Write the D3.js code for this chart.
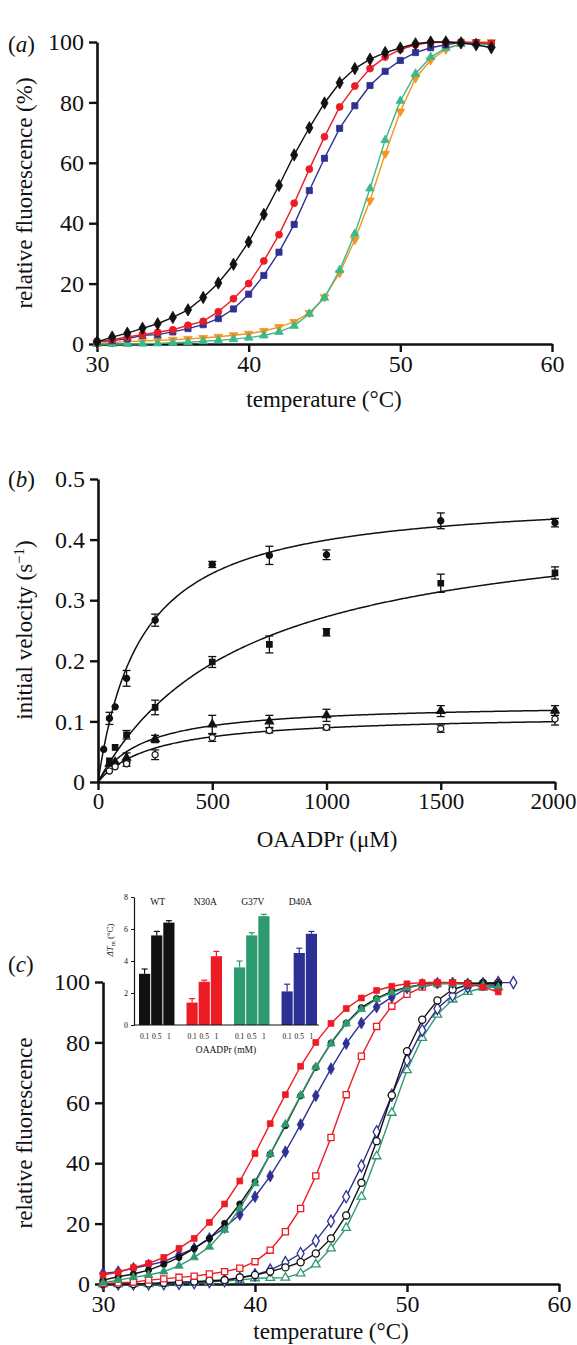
<!DOCTYPE html>
<html>
<head>
<meta charset="utf-8">
<script src="https://cdn.jsdelivr.net/npm/d3@7"></script>
<style>
body { margin: 0; background: #fff; }
svg { display: block; }
text { font-family: "Liberation Serif", "Times New Roman", Tinos, serif; fill: #111; }
</style>
</head>
<body>
<div id="graph"></div>
<script>
// ---------- panel (a) data ----------
var tempsA = [30,31,32,33,34,35,36,37,38,39,40,41,42,43,44,45,46,47,48,49,50,51,52,53,54,55,56];
var aBlack  = [0.7,2.3,3.6,5.2,6.7,8.8,11.3,15.4,20.2,26.4,33.8,42.9,52.5,62.6,71.6,79.8,86.5,91.2,94.3,96.5,98,99.4,100,100,99.7,99.1,98.1];
var aRed    = [0.7,1.4,2.3,3.1,3.9,4.7,6.2,7.5,10.7,15,20,27.5,36.2,46.6,57.9,68.6,78.5,85.4,91.2,95,97.5,99.1,99.8,99.9,99.9,99.8,99.5];
var aBlue   = [0.7,1.1,1.7,2.9,3.1,4,5.1,6.4,8.4,11.6,16.5,22.7,30.4,39.6,50.8,61.5,71.4,78.9,85.6,90.3,93.9,96.5,98.1,99.1,99.9,99.8,99.5];
var aGreen  = [0,0,0,0.1,0.2,0.4,0.6,0.9,1.2,1.6,2.1,2.8,4,6,10,15.3,24.5,36.5,51.5,67.5,80.5,89.5,95,98,99.3,99.5,99];
var aOrange = [0.2,0.5,0.8,1,1.2,1.4,1.7,2,2.4,2.9,3.4,4.3,5.6,7.3,10.3,15.5,23.5,34.5,47.5,63,77,88,94,97.5,99.5,100,100];

// ---------- panel (b) data ----------
var bConc1 = [25,50,75,125,250,500,750,1000,1500,2000];
var bV1    = [0.054,0.105,0.124,0.171,0.267,0.359,0.374,0.375,0.431,0.428];
var bE1    = [0,0.01,0,0.013,0.01,0.005,0.015,0.008,0.013,0.007];
var bConc  = [50,75,125,250,500,750,1000,1500,2000];
var bV2    = [0.035,0.057,0.078,0.123,0.198,0.227,0.247,0.328,0.345];
var bE2    = [0,0,0.007,0.012,0.009,0.014,0.006,0.015,0.01];
var bV3    = [0.03,0.033,0.04,0.071,0.095,0.1,0.11,0.117,0.118];
var bE3    = [0,0,0.008,0.006,0.015,0.01,0.01,0.009,0.008];
var bV4    = [0.018,0.025,0.03,0.045,0.073,0.085,0.09,0.088,0.104];
var bE4    = [0,0,0.004,0.008,0.006,0.004,0.004,0.006,0.01];
var bVmax  = [0.475,0.45,0.13,0.112];
var bKm    = [190,650,200,250];

// ---------- panel (c) data ----------
var tempsC = [30,31,32,33,34,35,36,37,38,39,40,41,42,43,44,45,46,47,48,49,50,51,52,53,54,55,56];
var tempsC2 = [30,31,32,33,34,35,36,37,38,39,40,41,42,43,44,45,46,47,48,49,50,51,52,53,54,55,56,57];
var cRedF   = [3,3.9,5.4,6.8,8.8,11.8,15.1,20.4,26.5,34.1,43.2,53.1,62.7,72.1,80,86.3,91.2,94.7,97.2,98.6,99.4,99.8,99.9,99.8,99.4,98.3,96.7];
var cBlackF = [1.3,2.4,3.3,4.6,6.5,8.8,11.8,15.1,20.1,26.5,33.8,43,52.4,62.3,71.7,79.8,86.4,91.5,94.6,96.9,98.3,99.2,99.6,99.7,99.7,99.6,99.4];
var cGreenF = [0.4,1.3,2.2,3,4.1,6,8.8,12.3,17.9,25,33.3,43,52.9,62.5,71.9,79.6,86.2,91,94.3,96.5,98.1,99.1,99.4,99.4,99.2,98.9,98.3];
var cBlueF  = [3.5,4.1,5.2,6.3,7.4,9.6,11.8,15.1,18.7,23,28.9,35.7,43.8,52.8,62.3,71.3,79.6,86.4,91.7,95,98,99.2,99.6,99.7,99.4,99.1,98.9];
var cRedO   = [0.2,0.4,0.6,1.3,1.7,2.2,2.6,3.3,4.1,5.2,7.4,11.2,17.3,25,35.8,48.5,62.7,75.4,85.3,92,95.9,98.3,99.4,99.7,99.4,98.9,98.3];
var cBlackO = [0,0,0,0.2,0.4,0.7,0.8,1.1,1.3,2.2,3,4.1,5.5,7.2,10.1,15.1,22.7,33.5,47.3,62.5,77.1,87.5,93.9,97.5,99.1,99.7,99.7];
var cBlueO  = [0,0,0,0,0.1,0.2,0.4,0.8,1.1,1.9,3,4.6,7.1,10.1,14.3,20.8,28.9,39.1,50.4,62.5,74.1,84,91.2,95.6,98.3,99.4,99.8,99.8];
var cGreenO = [0,0,0,0,0.1,0.3,0.5,0.7,1,1.3,1.9,2,2.1,3.5,6.5,11.8,18.6,28.9,42.3,56.7,70.8,81.5,89.2,94.2,96.7,98.1,98.3];

// ---------- inset data ----------
var insetGroups = ["WT","N30A","G37V","D40A"];
var insetConc = ["0.1","0.5","1"];
var dTm    = [[3.2,5.6,6.4],[1.4,2.7,4.3],[3.6,5.6,6.8],[2.1,4.5,5.7]];
var dTmErr = [[0.3,0.25,0.12],[0.25,0.1,0.3],[0.4,0.17,0.12],[0.45,0.3,0.15]];

var black = "#111", red = "#ed1c24", blue = "#2e3192", orange = "#f7941d";
var greenA = "#3cb98b", greenC = "#2f9a6f";
var serif = '"Liberation Serif","Times New Roman",Tinos,serif';

var svg = d3.select("#graph").append("svg")
  .attr("width", 577).attr("height", 1345)
  .attr("font-family", serif);

// helpers
function styleAxis(g) {
  g.attr("font-family", serif);
  g.selectAll(".domain").attr("stroke", "#111").attr("stroke-width", 2.6);
  g.selectAll(".tick line").attr("stroke", "#111").attr("stroke-width", 2.4);
  g.selectAll(".tick text").attr("font-size", 24).attr("fill", "#111");
}

function panelLabel(x, y, letter) {
  var t = svg.append("text").attr("x", x).attr("y", y).attr("font-size", 23);
  t.append("tspan").text("(");
  t.append("tspan").attr("font-style", "italic").text(letter);
  t.append("tspan").text(")");
}

function symbolPath(shape, size) {
  var types = { diamond: d3.symbolDiamond, circle: d3.symbolCircle, square: d3.symbolSquare,
                up: d3.symbolTriangle, down: d3.symbolTriangle };
  return d3.symbol().type(types[shape]).size(size)();
}

function series(g, x, y, xs, ys, color, shape, open, size, lw) {
  var pts = xs.map(function(d, i) { return [d, ys[i]]; });
  g.append("path")
    .datum(pts)
    .attr("fill", "none")
    .attr("stroke", color)
    .attr("stroke-width", lw || 1.4)
    .attr("d", d3.line().x(function(d){ return x(d[0]); }).y(function(d){ return y(d[1]); }));
  g.selectAll(null)
    .data(pts)
    .enter()
    .append("path")
      .attr("d", symbolPath(shape, size))
      .attr("transform", function(d) {
        return "translate(" + x(d[0]) + "," + y(d[1]) + ")" + (shape == "down" ? " rotate(180)" : "");
      })
      .attr("fill", open ? "#fff" : color)
      .attr("stroke", color)
      .attr("stroke-width", open ? 1.3 : 0.8);
}

// ================= panel (a) =================
var xa = d3.scaleLinear().domain([30, 60]).range([97, 552]);
var ya = d3.scaleLinear().domain([0, 100]).range([344, 42]);

svg.append("g").attr("transform", "translate(0,344)")
  .call(d3.axisBottom(xa).tickValues([30,40,50,60]).tickSize(8).tickSizeOuter(0).tickPadding(3))
  .call(styleAxis);
svg.append("g").attr("transform", "translate(97,0)")
  .call(d3.axisLeft(ya).tickValues([0,20,40,60,80,100]).tickSize(8).tickSizeOuter(0).tickPadding(5))
  .call(styleAxis);

var ga = svg.append("g");
series(ga, xa, ya, tempsA, aOrange, orange, "down", false, 32);
series(ga, xa, ya, tempsA, aGreen, greenA, "up", false, 32);
series(ga, xa, ya, tempsA, aBlue, blue, "square", false, 38);
series(ga, xa, ya, tempsA, aRed, red, "circle", false, 38);
series(ga, xa, ya, tempsA, aBlack, black, "diamond", false, 44);

panelLabel(8, 52, "a");
svg.append("text").attr("transform", "translate(32,193) rotate(-90)")
  .attr("text-anchor", "middle").attr("font-size", 23).text("relative fluorescence (%)");
svg.append("text").attr("x", 324).attr("y", 407)
  .attr("text-anchor", "middle").attr("font-size", 23).text("temperature (°C)");

// ================= panel (b) =================
var xb = d3.scaleLinear().domain([0, 2000]).range([98, 555]);
var yb = d3.scaleLinear().domain([0, 0.5]).range([782, 479]);

var xbAxis = svg.append("g").attr("transform", "translate(0,782)")
  .call(d3.axisBottom(xb).tickValues([0,500,1000,1500,2000]).tickFormat(d3.format("d"))
    .tickSize(8).tickSizeOuter(0).tickPadding(3))
  .call(styleAxis);
xbAxis.selectAll(".tick text").attr("font-size", 23)
  .attr("dx", function(d){ return d === 2000 ? -2 : 0; });
svg.append("g").attr("transform", "translate(98,0)")
  .call(d3.axisLeft(yb).tickValues([0,0.1,0.2,0.3,0.4,0.5]).tickFormat(function(d){ return d === 0 ? "0" : d3.format(".1f")(d); })
    .tickSize(8).tickSizeOuter(0).tickPadding(5))
  .call(styleAxis);

var gb = svg.append("g");
var fitX = d3.range(0, 2001, 5);
bVmax.forEach(function(vm, k) {
  gb.append("path")
    .datum(fitX)
    .attr("fill", "none").attr("stroke", "#111").attr("stroke-width", 1.5)
    .attr("d", d3.line().x(function(s){ return xb(s); })
      .y(function(s){ return yb(vm * s / (bKm[k] + s)); }));
});

function kinPoints(xs, vs, es, shape, open) {
  var pts = xs.map(function(c, i) { return { c: c, v: vs[i], e: es[i] }; });
  var withErr = pts.filter(function(d){ return d.e > 0; });
  gb.selectAll(null).data(withErr).enter().append("line")
    .attr("x1", function(d){ return xb(d.c); }).attr("x2", function(d){ return xb(d.c); })
    .attr("y1", function(d){ return yb(d.v - d.e); }).attr("y2", function(d){ return yb(d.v + d.e); })
    .attr("stroke", "#111").attr("stroke-width", 1.3);
  [1, -1].forEach(function(sg) {
    gb.selectAll(null).data(withErr).enter().append("line")
      .attr("x1", function(d){ return xb(d.c) - 4; }).attr("x2", function(d){ return xb(d.c) + 4; })
      .attr("y1", function(d){ return yb(d.v + sg * d.e); }).attr("y2", function(d){ return yb(d.v + sg * d.e); })
      .attr("stroke", "#111").attr("stroke-width", 1.3);
  });
  gb.selectAll(null).data(pts).enter().append("path")
    .attr("d", symbolPath(shape, 30))
    .attr("transform", function(d){ return "translate(" + xb(d.c) + "," + yb(d.v) + ")"; })
    .attr("fill", open ? "#fff" : "#111").attr("stroke", "#111").attr("stroke-width", 1.2);
}
kinPoints(bConc1, bV1, bE1, "circle", false);
kinPoints(bConc, bV2, bE2, "square", false);
kinPoints(bConc, bV3, bE3, "up", false);
kinPoints(bConc, bV4, bE4, "circle", true);

panelLabel(8, 487, "b");
var tb = svg.append("text").attr("transform", "translate(32,630) rotate(-90)")
  .attr("text-anchor", "middle").attr("font-size", 23);
tb.append("tspan").text("initial velocity (s");
tb.append("tspan").attr("font-size", 15).attr("dy", -8).text("−1");
tb.append("tspan").attr("dy", 8).text(")");
svg.append("text").attr("x", 327).attr("y", 847)
  .attr("text-anchor", "middle").attr("font-size", 23).text("OAADPr (μM)");

// ================= panel (c) =================
var xc = d3.scaleLinear().domain([30, 60]).range([103, 559]);
var yc = d3.scaleLinear().domain([0, 100]).range([1284, 982]);

svg.append("g").attr("transform", "translate(0,1284)")
  .call(d3.axisBottom(xc).tickValues([30,40,50,60]).tickSize(8).tickSizeOuter(0).tickPadding(3))
  .call(styleAxis);
svg.append("g").attr("transform", "translate(103,0)")
  .call(d3.axisLeft(yc).tickValues([0,20,40,60,80,100]).tickSize(8).tickSizeOuter(0).tickPadding(5))
  .call(styleAxis);

var gc = svg.append("g");
series(gc, xc, yc, tempsC, cGreenO, greenC, "up", true, 32);
series(gc, xc, yc, tempsC2, cBlueO, blue, "diamond", true, 42);
series(gc, xc, yc, tempsC, cBlackO, black, "circle", true, 40);
series(gc, xc, yc, tempsC, cRedO, red, "square", true, 38);
series(gc, xc, yc, tempsC, cBlueF, blue, "diamond", false, 40);
series(gc, xc, yc, tempsC, cBlackF, black, "circle", false, 30);
series(gc, xc, yc, tempsC, cGreenF, greenC, "up", false, 30);
series(gc, xc, yc, tempsC, cRedF, red, "square", false, 34);

panelLabel(8, 972, "c");
svg.append("text").attr("transform", "translate(32,1133) rotate(-90)")
  .attr("text-anchor", "middle").attr("font-size", 23).text("relative fluorescence");
svg.append("text").attr("x", 331).attr("y", 1339)
  .attr("text-anchor", "middle").attr("font-size", 23).text("temperature (°C)");

// ---------- inset ----------
var insetColors = ["#111", "#ed1c24", "#2e9a6f", "#2b3092"];
var yi = d3.scaleLinear().domain([0, 8]).range([1025, 897]);
var xg = d3.scaleBand().domain(insetGroups).range([139, 317]).paddingInner(0.253).paddingOuter(0);
var xk = d3.scaleBand().domain(insetConc).range([0, xg.bandwidth()]).paddingInner(0.08);

var gi = svg.append("g");
gi.append("rect").attr("x", 130).attr("y", 890).attr("width", 192).attr("height", 140).attr("fill", "#fff");

insetGroups.forEach(function(gName, gi_) {
  var grp = gi.append("g").attr("transform", "translate(" + xg(gName) + ",0)");
  var vals = dTm[gi_].map(function(v, j){ return { c: insetConc[j], v: v, e: dTmErr[gi_][j] }; });
  grp.selectAll(null).data(vals).enter().append("line")
    .attr("x1", function(d){ return xk(d.c) + xk.bandwidth() / 2; })
    .attr("x2", function(d){ return xk(d.c) + xk.bandwidth() / 2; })
    .attr("y1", function(d){ return yi(d.v); }).attr("y2", function(d){ return yi(d.v + d.e); })
    .attr("stroke", insetColors[gi_]).attr("stroke-width", 1.2);
  grp.selectAll(null).data(vals).enter().append("line")
    .attr("x1", function(d){ return xk(d.c) + xk.bandwidth() / 2 - 3; })
    .attr("x2", function(d){ return xk(d.c) + xk.bandwidth() / 2 + 3; })
    .attr("y1", function(d){ return yi(d.v + d.e); }).attr("y2", function(d){ return yi(d.v + d.e); })
    .attr("stroke", insetColors[gi_]).attr("stroke-width", 1.2);
  grp.selectAll(null).data(vals).enter().append("rect")
    .attr("x", function(d){ return xk(d.c); })
    .attr("y", function(d){ return yi(d.v); })
    .attr("width", xk.bandwidth())
    .attr("height", function(d){ return yi(0) - yi(d.v); })
    .attr("fill", insetColors[gi_]);
  grp.selectAll(null).data(vals).enter().append("text")
    .attr("x", function(d){ return xk(d.c) + xk.bandwidth() / 2; })
    .attr("y", 1039)
    .attr("text-anchor", "middle").attr("font-size", 7.5)
    .text(function(d){ return d.c; });
  gi.append("text").attr("x", xg(gName) + xg.bandwidth() / 2 + 1).attr("y", 905)
    .attr("text-anchor", "middle").attr("font-size", 9.5).text(gName);
});

gi.append("line").attr("x1", 134).attr("x2", 319).attr("y1", 1025).attr("y2", 1025)
  .attr("stroke", "#111").attr("stroke-width", 1.2);
var iax = gi.append("g").attr("transform", "translate(134,0)")
  .call(d3.axisLeft(yi).tickValues([0,2,4,6,8]).tickSize(3).tickSizeOuter(0).tickPadding(3));
iax.attr("font-family", serif);
iax.selectAll(".domain").attr("stroke", "#111").attr("stroke-width", 1.2);
iax.selectAll(".tick line").attr("stroke", "#111");
iax.selectAll(".tick text").attr("font-size", 8);

var ti = gi.append("text").attr("transform", "translate(113,940) rotate(-90)")
  .attr("text-anchor", "middle").attr("font-size", 9);
ti.append("tspan").attr("font-style", "italic").text("ΔT");
ti.append("tspan").attr("font-size", 6.5).attr("dy", 2).text("m");
ti.append("tspan").attr("dy", -2).text(" (°C)");
gi.append("text").attr("x", 226).attr("y", 1053)
  .attr("text-anchor", "middle").attr("font-size", 9.5).text("OAADPr (mM)");
</script>
</body>
</html>
